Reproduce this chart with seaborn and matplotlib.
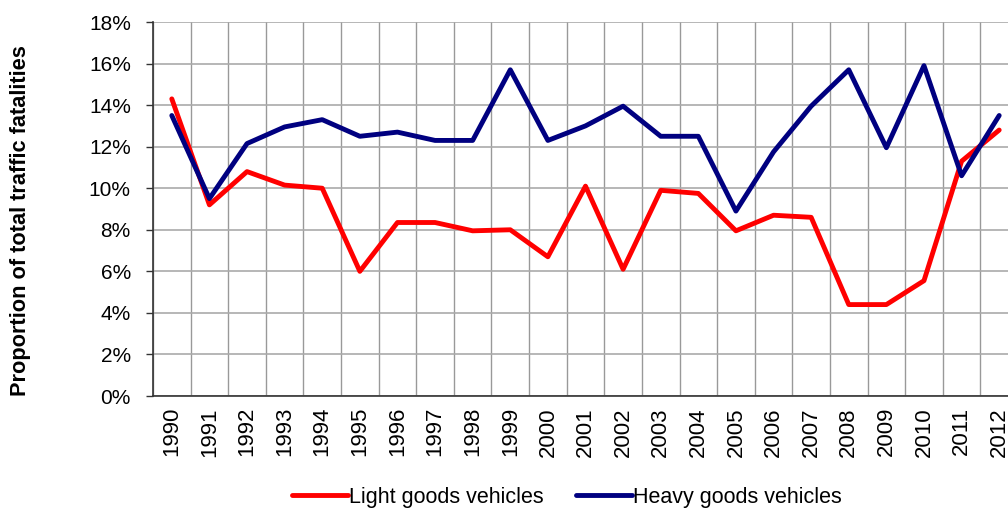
import seaborn as sb
from matplotlib import pyplot as plt
from matplotlib.ticker import FixedLocator, PercentFormatter
import pandas as pd

years = list(range(1990, 2013))
light = [14.3, 9.2, 10.8, 10.15, 10.0, 6.0, 8.35, 8.35, 7.95, 8.0, 6.7, 10.1,
         6.1, 9.9, 9.75, 7.95, 8.7, 8.6, 4.4, 4.4, 5.55, 11.3, 12.8]
heavy = [13.5, 9.5, 12.15, 12.95, 13.3, 12.5, 12.7, 12.3, 12.3, 15.7, 12.3, 13.0,
         13.95, 12.5, 12.5, 8.9, 11.75, 13.95, 15.7, 11.95, 15.9, 10.6, 13.5]

df = pd.DataFrame({'Year': years,
                   'Light goods vehicles': light,
                   'Heavy goods vehicles': heavy})
dfl = df.melt(id_vars=['Year'], var_name='Type', value_name='Share')

sb.set_style('white')
plt.rcParams['font.family'] = ['Liberation Sans', 'DejaVu Sans']
plt.rcParams['text.color'] = 'black'
plt.rcParams['xtick.color'] = 'black'
plt.rcParams['ytick.color'] = 'black'
plt.rcParams['axes.labelcolor'] = 'black'
#
fig = plt.figure(figsize=(10.08, 5.09), dpi=100)
ax = fig.add_axes([153/1008, 113/509, 865/1008, 374/509])
sb.lineplot(data=dfl, x='Year', y='Share', hue='Type',
            palette={'Light goods vehicles': '#ff0000', 'Heavy goods vehicles': '#000080'},
            linewidth=3.5, ax=ax, legend=False)
ax.set_xlim(1989.5, 2012.5)
ax.set_ylim(0, 18)
ax.set_yticks(range(0, 19, 2))
ax.yaxis.set_major_formatter(PercentFormatter(decimals=0))
ax.set_xticks(years)
ax.set_xticklabels([str(y) for y in years], rotation=90)
ax.xaxis.set_minor_locator(FixedLocator([y - 0.5 for y in years] + [2012.5]))
ax.grid(True, which='minor', axis='x', color='#999999', linewidth=1)
ax.grid(True, which='major', axis='y', color='#aaaaaa', linewidth=1.2)
ax.tick_params(axis='x', which='major', length=0, labelsize=16, pad=8)
ax.tick_params(axis='x', which='minor', length=5, color='#333333', width=1)
ax.tick_params(axis='y', length=5, color='#333333', width=1, labelsize=15, direction='out',
               left=True, pad=11)
for s in ['top', 'right']:
    ax.spines[s].set_visible(False)
for s in ['left', 'bottom']:
    ax.spines[s].set_color('#333333')
    ax.spines[s].set_linewidth(1.2)
ax.set_xlabel('')
ax.set_ylabel('Proportion of total traffic fatalities', fontsize=15.7, fontweight='bold')
ax.yaxis.set_label_coords(-0.141, 0.468)
#
handles = [plt.Line2D([], [], color='#ff0000', linewidth=3.5),
           plt.Line2D([], [], color='#000080', linewidth=3.5)]
fig.legend(handles, ['Light goods vehicles', 'Heavy goods vehicles'], loc='center',
           bbox_to_anchor=(567/1008, 1 - 497/509), ncol=2, frameon=False, fontsize=15.5,
           handlelength=2.6, handletextpad=0.05, columnspacing=1.5, borderpad=0)
#
fig.savefig('out.png', dpi=100)
